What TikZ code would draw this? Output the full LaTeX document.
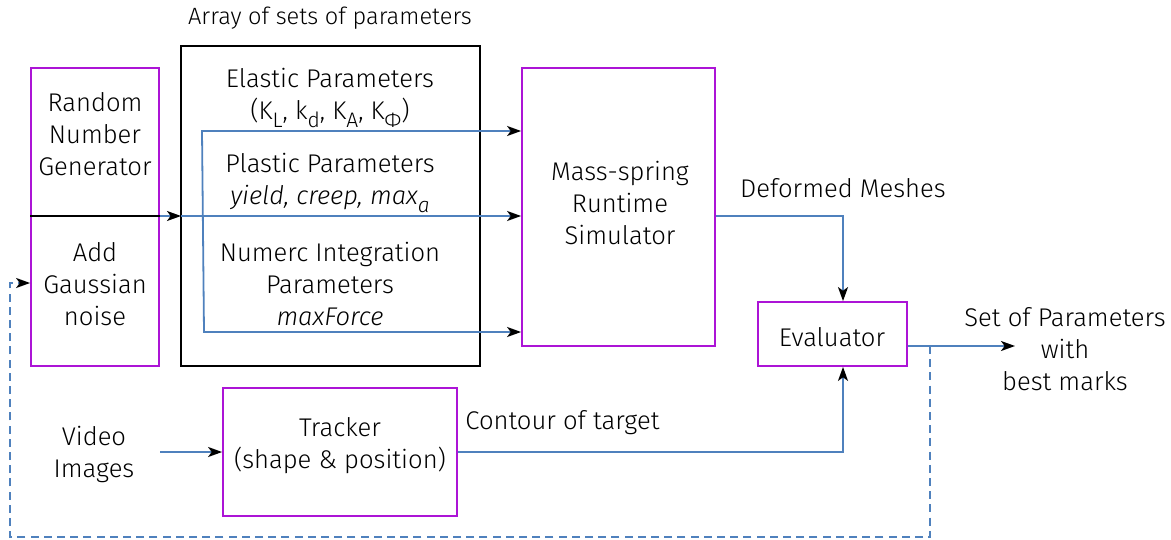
\documentclass[tikz,border=0pt]{standalone}
\usepackage{fontspec}
\setmainfont{Fira Sans Light}[ItalicFont={Fira Sans Light Italic}]
\usetikzlibrary{arrows.meta}
\definecolor{boxpurple}{RGB}{172,20,214}
\definecolor{lineblue}{RGB}{79,129,189}
\newcommand{\sbs}[1]{\raisebox{-0.6ex}{\fontsize{10.5}{12}\selectfont #1}}
\begin{document}
\begin{tikzpicture}[x=0.5pt,y=-0.5pt,
  pbox/.style={draw=boxpurple, line width=0.9pt, inner sep=0pt},
  kbox/.style={draw=black, line width=1pt, inner sep=0pt},
  txt/.style={inner sep=0pt, align=center, font=\fontsize{12.8}{16}\selectfont},
  tip/.style={-{Stealth[black,length=7pt,width=5pt,inset=1.8pt]}},
  conn/.style={draw=lineblue, line width=0.9pt, tip},
  dconn/.style={draw=lineblue, line width=0.9pt, dash pattern=on 4pt off 2.6pt, tip}]
\useasboundingbox (0,0) rectangle (1171,540);
% boxes
\node[pbox, minimum width=64pt, minimum height=149pt] (rng) at (95,217) {};
\node[kbox, minimum width=149.5pt, minimum height=160pt] (arr) at (330.5,206) {};
\node[pbox, minimum width=96.5pt, minimum height=139pt] (mass) at (618.5,207) {};
\node[pbox, minimum width=74.5pt, minimum height=32pt] (eval) at (832.5,334) {};
\node[pbox, minimum width=117pt, minimum height=64pt] (trk) at (340,452) {};
% texts
\node[txt] (rngt) at (95,134) {Random\\Number\\Generator};
\node[txt] (gau) at (95,284) {Add\\Gaussian\\noise};
\node[txt, font=\fontsize{11.8}{14}\selectfont] (arrt) at (330,18) {Array of sets of parameters};
\node[txt] (ela) at (330,98) {Elastic Parameters\\(K\sbs{L}, k\sbs{d}, K\sbs{A}, K\sbs{Φ})};
\node[txt] (pla) at (330,183) {Plastic Parameters\\\textit{yield, creep, max}\sbs{\textit{a}}};
\node[txt] (num) at (330,284) {Numerc Integration\\Parameters\\\textit{maxForce}};
\node[txt] (masst) at (620,203) {Mass-spring\\Runtime\\Simulator};
\node[txt] (evalt) at (832,337) {Evaluator};
\node[txt] (trkt) at (340,446) {Tracker\\(shape \& position)};
\node[txt] (vid) at (94,454) {Video\\Images};
\node[txt] (defm) at (843,188) {Deformed Meshes};
\node[txt, anchor=west] (cont) at (465,423) {Contour of target};
\node[txt] (best) at (1065,349) {Set of Parameters\\with\\best marks};
% coordinates
\coordinate (m) at (181,216);
\coordinate (b1) at (202,131);
\coordinate (b2) at (204,332);
\coordinate (ev) at (843,0);
\coordinate (v) at (160,452);
\coordinate (o) at (907,346);
\coordinate (out) at (1015,346);
\coordinate (f1) at (930,346);
\coordinate (f2) at (930,537);
\coordinate (f3) at (10,537);
\coordinate (f4) at (10,283);
% connectors
\draw[black, line width=1pt] (rng.west |- m) -- (rng.east |- m);
\draw[conn] (rng.east |- m) -- (m);
\draw[conn] (m) -- (mass.west |- m);
\draw[draw=lineblue, line width=0.9pt, {Stealth[black,length=7pt,width=5pt,inset=1.8pt]}-{Stealth[black,length=7pt,width=5pt,inset=1.8pt]}]
  (mass.west |- b1) -- (b1) -- (b2) -- (mass.west |- b2);
\draw[conn] (mass.east |- m) -| (eval.north -| ev);
\draw[conn] (trk.east) -| (eval.south -| ev);
\draw[conn] (v) -- (trk.west);
\draw[conn] (eval.east |- o) -- (out);
\draw[dconn] (f1) -- (f2) -- (f3) -- (f4) -- (rng.west |- f4);
\end{tikzpicture}
\end{document}
